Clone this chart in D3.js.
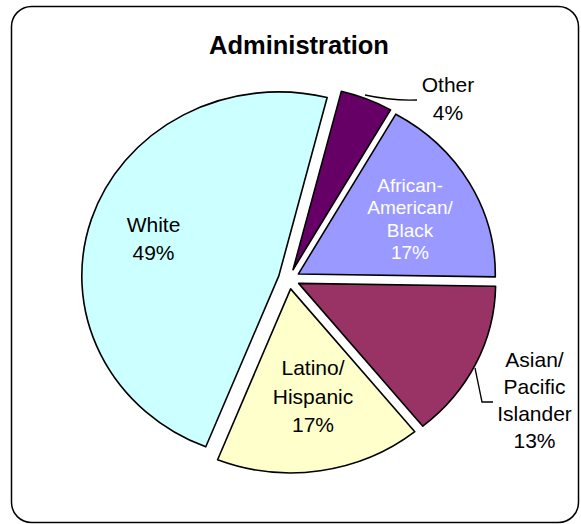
<!DOCTYPE html>
<html>
<head>
<meta charset="utf-8">
<script src="https://cdn.jsdelivr.net/npm/d3@7"></script>
<style>
  html, body { margin: 0; padding: 0; background: #fff; }
  svg { display: block; }
  text { font-family: "Liberation Sans", Arial, sans-serif; }
</style>
</head>
<body>
<svg id="chart" width="581" height="524"></svg>
<script>
const title = "Administration";
const categories = ["Other", "African-American/Black", "Asian/Pacific Islander", "Latino/Hispanic", "White"];
// slice sizes (labels show the rounded percentages)
const values = [4.3, 17.0, 13.9, 16.9, 47.9];
const colors = ["#660066", "#9999FF", "#993366", "#FFFFCC", "#CCFFFF"];
const labelLines = [
  ["Other", "4%"],
  ["African-", "American/", "Black", "17%"],
  ["Asian/", "Pacific", "Islander", "13%"],
  ["Latino/", "Hispanic", "17%"],
  ["White", "49%"]
];

const svg = d3.select("#chart");

// frame
svg.append("rect")
  .attr("x", 11.5).attr("y", 6.5)
  .attr("width", 567).attr("height", 516)
  .attr("rx", 20).attr("ry", 20)
  .attr("fill", "#fff").attr("stroke", "#000").attr("stroke-width", 1.5);

svg.append("text")
  .attr("x", 299).attr("y", 54)
  .attr("text-anchor", "middle")
  .attr("font-size", 25.5).attr("font-weight", "bold")
  .text(title);

const cx = 289, cy = 279;
const ry = 184, rx = 197;
const sx = rx / ry;
const explode = 10;
const start = 14.2 * Math.PI / 180;

const data = categories.map((c, i) => ({ name: c, value: values[i], color: colors[i], lines: labelLines[i] }));
const pie = d3.pie().value(d => d.value).sort(null)
  .startAngle(start).endAngle(start + 2 * Math.PI);
const arcs = pie(data);
const arc = d3.arc().innerRadius(0).outerRadius(ry);

const g = svg.append("g").attr("transform", `translate(${cx},${cy}) scale(${sx},1)`);
g.selectAll("path.slice").data(arcs).enter().append("path")
  .attr("class", "slice")
  .attr("d", arc)
  .attr("transform", d => {
    const m = (d.startAngle + d.endAngle) / 2;
    return `translate(${explode * Math.sin(m)},${-explode * Math.cos(m)})`;
  })
  .attr("fill", d => d.data.color)
  .attr("stroke", "#000")
  .attr("stroke-width", 1.6)
  .attr("stroke-linejoin", "round")
  .attr("vector-effect", "non-scaling-stroke");

// leader lines
svg.append("path").attr("d", "M365,95 Q392,101 417,100")
  .attr("fill", "none").attr("stroke", "#000").attr("stroke-width", 1.3);
svg.append("path").attr("d", "M475,368 L482,402 L493,402")
  .attr("fill", "none").attr("stroke", "#000").attr("stroke-width", 1.3);

// labels: [centerX, firstBaseline, lineHeight, fontSize, color]
const labelLayout = [
  [448, 92, 28, 21, "#000"],
  [410, 191.5, 22.5, 19, "#fff"],
  [534.5, 366.5, 27.3, 21, "#000"],
  [313, 375, 28.5, 21, "#000"],
  [153.5, 232, 28, 21, "#000"]
];
arcs.forEach((a, i) => {
  const [x, y0, lh, fs, col] = labelLayout[i];
  const t = svg.append("text").attr("text-anchor", "middle")
    .attr("font-size", fs).attr("fill", col);
  a.data.lines.forEach((ln, j) => {
    t.append("tspan").attr("x", x).attr("y", y0 + j * lh).text(ln);
  });
});
</script>
</body>
</html>
